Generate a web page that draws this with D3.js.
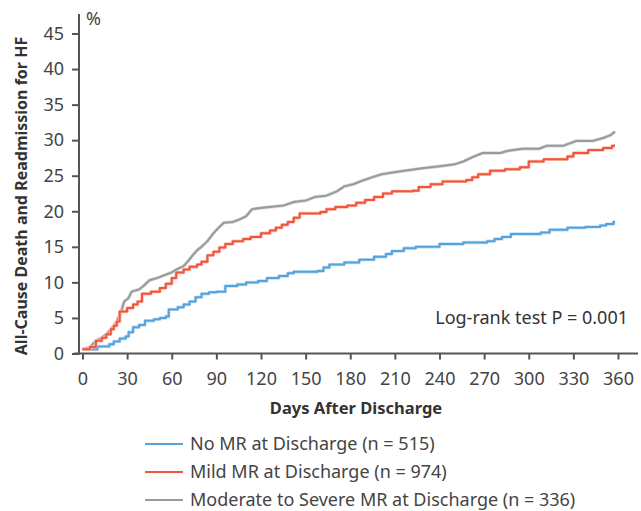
<!DOCTYPE html>
<html>
<head>
<meta charset="utf-8">
<script src="https://cdn.jsdelivr.net/npm/d3@7"></script>
<style>
  body { margin: 0; background: #fff; }
  svg { font-family: "Noto Sans", "Open Sans", sans-serif; }
</style>
</head>
<body>
<div id="chart"></div>
<script>
// tick values
const xTicks = [0, 30, 60, 90, 120, 150, 180, 210, 240, 270, 300, 330, 360];
const yTicks = [0, 5, 10, 15, 20, 25, 30, 35, 40, 45];

// No MR at discharge (n = 515)
const noMrDays = [0, 10, 18, 21, 25, 29, 31, 34, 38, 42, 48, 52, 56, 58, 64, 68, 72, 76, 80, 85, 90, 96, 104, 110, 118, 124, 132, 138, 142, 158, 162, 166, 176, 186, 196, 204, 208, 216, 224, 240, 256, 272, 277, 282, 288, 308, 314, 326, 338, 348, 352, 357, 358];
const noMrPct = [0.6, 1.0, 1.3, 1.7, 2.1, 2.4, 3.0, 3.7, 4.0, 4.6, 4.8, 5.0, 5.2, 6.2, 6.5, 6.9, 7.3, 7.9, 8.4, 8.6, 8.7, 9.5, 9.7, 10.0, 10.2, 10.6, 10.9, 11.3, 11.5, 11.6, 12.1, 12.5, 12.8, 13.2, 13.6, 14.0, 14.4, 14.8, 15.0, 15.4, 15.6, 15.8, 16.1, 16.4, 16.8, 17.0, 17.4, 17.7, 17.8, 18.0, 18.2, 18.5, 18.5];

// Mild MR at discharge (n = 974)
const mildDays = [0, 5, 9, 13, 16, 19, 21, 23, 25, 30, 34, 37, 40, 46, 52, 56, 60, 63, 68, 72, 77, 80, 84, 88, 92, 96, 101, 108, 113, 120, 126, 130, 134, 138, 142, 146, 160, 164, 170, 178, 184, 190, 196, 202, 208, 222, 226, 234, 242, 258, 262, 266, 274, 284, 294, 300, 310, 326, 330, 340, 350, 356, 358];
const mildPct = [0.6, 0.9, 1.8, 2.2, 2.7, 3.4, 3.9, 4.5, 5.9, 6.4, 6.9, 7.3, 8.4, 8.7, 9.2, 9.8, 10.6, 11.4, 11.8, 12.2, 12.5, 12.9, 13.8, 14.3, 14.9, 15.4, 15.8, 16.1, 16.4, 16.9, 17.3, 17.7, 18.1, 18.5, 19.1, 19.7, 19.9, 20.3, 20.6, 20.8, 21.2, 21.6, 22.0, 22.5, 22.8, 22.9, 23.4, 23.8, 24.2, 24.4, 24.8, 25.2, 25.7, 25.9, 26.2, 27.0, 27.3, 27.7, 28.2, 28.6, 28.9, 29.2, 29.2];

// Moderate to severe MR at discharge (n = 336)
const modDays = [0, 5, 9, 13, 16, 19, 21, 23, 26, 28, 31, 33, 38, 41, 45, 50, 55, 60, 63, 68, 71, 74, 77, 80, 84, 88, 92, 95, 101, 105, 110, 114, 121, 135, 142, 150, 156, 164, 171, 176, 182, 188, 195, 201, 213, 227, 243, 250, 256, 262, 269, 281, 286, 296, 307, 312, 323, 332, 343, 350, 355, 358];
const modPct = [0.6, 0.9, 1.8, 2.2, 2.7, 3.4, 3.9, 4.5, 5.9, 7.3, 7.8, 8.7, 9.0, 9.5, 10.3, 10.6, 11.0, 11.4, 11.8, 12.3, 13.0, 13.8, 14.5, 15.0, 15.8, 16.9, 17.8, 18.4, 18.5, 18.8, 19.3, 20.3, 20.5, 20.8, 21.3, 21.5, 22.0, 22.2, 22.8, 23.5, 23.8, 24.3, 24.8, 25.2, 25.6, 26.0, 26.4, 26.6, 27.0, 27.6, 28.2, 28.2, 28.5, 28.8, 28.8, 29.2, 29.2, 29.9, 29.9, 30.3, 30.7, 31.2];

const legendLabels = [
  'No MR at Discharge (n = 515)',
  'Mild MR at Discharge (n = 974)',
  'Moderate to Severe MR at Discharge (n = 336)',
];

const W = 641, H = 511;
const axisCol = '#555', textCol = '#444';

const svg = d3.select('#chart').append('svg')
  .attr('width', W).attr('height', H);

const x = d3.scaleLinear().domain([0, 360]).range([82.5, 618]);
const y = d3.scaleLinear().domain([0, 45]).range([353.5, 33.5]);

// series (drawn grey first so red sits on top early on)
const series = [
  { days: modDays, pct: modPct, color: '#9a9a9a', halo: '#d6d6d6', curve: d3.curveLinear },
  { days: noMrDays, pct: noMrPct, color: '#55a3dd', halo: '#bfdcf2', curve: d3.curveStepAfter },
  { days: mildDays, pct: mildPct, color: '#f2553b', halo: '#f9c0b5', curve: d3.curveStepAfter },
];

series.forEach((s) => {
  const pts = s.days.map((d, i) => [d, s.pct[i]]);
  const line = d3.line().x((d) => x(d[0])).y((d) => y(d[1])).curve(s.curve);
  svg.append('path').attr('d', line(pts))
    .attr('fill', 'none').attr('stroke', s.halo).attr('stroke-width', 3.4)
    .attr('stroke-linejoin', 'round');
  svg.append('path').attr('d', line(pts))
    .attr('fill', 'none').attr('stroke', s.color).attr('stroke-width', 2)
    .attr('stroke-linejoin', 'round');
});

// axes
const yAxis = svg.append('g')
  .attr('transform', 'translate(79,0)')
  .call(d3.axisLeft(y).tickValues(yTicks).tickSize(7).tickPadding(8));
yAxis.select('.domain').remove();
svg.append('line').attr('x1', 79).attr('x2', 79).attr('y1', 14).attr('y2', 354.5)
  .attr('stroke', axisCol).attr('stroke-width', 2);

const xAxis = svg.append('g')
  .attr('transform', 'translate(0,353.5)')
  .call(d3.axisBottom(x).tickValues(xTicks).tickSize(6).tickPadding(13));
xAxis.select('.domain').remove();
svg.append('line').attr('x1', 74).attr('x2', 638).attr('y1', 353.5).attr('y2', 353.5)
  .attr('stroke', axisCol).attr('stroke-width', 2);

svg.selectAll('.tick line').attr('stroke', axisCol).attr('stroke-width', 2);
svg.selectAll('.tick text')
  .attr('fill', textCol)
  .style('font-size', '18px')
  .style('font-family', '"Noto Sans", sans-serif');

// titles
svg.append('text').attr('x', 86).attr('y', 25)
  .attr('fill', textCol).style('font-size', '18px').text('%');

svg.append('text')
  .attr('transform', 'translate(27,196) rotate(-90)')
  .attr('text-anchor', 'middle').attr('fill', '#333')
  .style('font-size', '16px').style('font-weight', 'bold')
  .text('All-Cause Death and Readmission for HF');

svg.append('text').attr('x', 356).attr('y', 414)
  .attr('text-anchor', 'middle').attr('fill', '#333')
  .style('font-size', '16.5px').style('font-weight', 'bold')
  .text('Days After Discharge');

svg.append('text').attr('x', 628).attr('y', 324)
  .attr('text-anchor', 'end').attr('fill', '#333')
  .style('font-size', '18px')
  .text('Log-rank test P = 0.001');

// legend
const legendColors = ['#55a3dd', '#f2553b', '#9a9a9a'];
const legend = svg.append('g');
legendLabels.forEach((lab, i) => {
  const ly = 444 + i * 28;
  legend.append('line').attr('x1', 145).attr('x2', 183).attr('y1', ly).attr('y2', ly)
    .attr('stroke', legendColors[i]).attr('stroke-width', 2);
  legend.append('text').attr('x', 190).attr('y', ly + 6)
    .attr('fill', textCol).style('font-size', '18px').text(lab);
});
</script>
</body>
</html>
